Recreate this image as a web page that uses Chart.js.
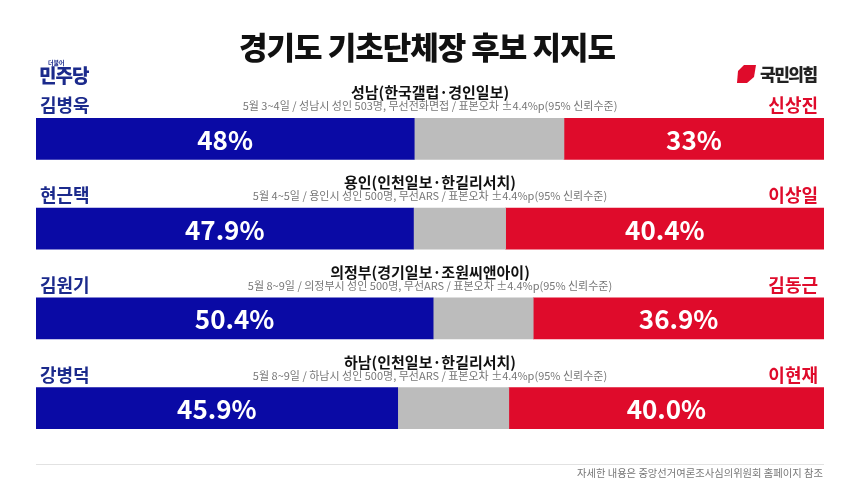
<!DOCTYPE html>
<html><head><meta charset="utf-8">
<script src="https://cdn.jsdelivr.net/npm/chart.js@4"></script>
<style>
html,body{margin:0;padding:0;background:#fff;}
#wrap{position:relative;width:860px;height:484px;}
</style></head>
<body><div id="wrap"><canvas id="c" width="860" height="484"></canvas></div>
<script>
const regions = ['성남(한국갤럽·경인일보)','용인(인천일보·한길리서치)','의정부(경기일보·조원씨앤아이)','하남(인천일보·한길리서치)'];
const details = [
 '5월 3~4일 / 성남시 성인 503명, 무선전화면접 / 표본오차 ±4.4%p(95% 신뢰수준)',
 '5월 4~5일 / 용인시 성인 500명, 무선ARS / 표본오차 ±4.4%p(95% 신뢰수준)',
 '5월 8~9일 / 의정부시 성인 500명, 무선ARS / 표본오차 ±4.4%p(95% 신뢰수준)',
 '5월 8~9일 / 하남시 성인 500명, 무선ARS / 표본오차 ±4.4%p(95% 신뢰수준)'];
const demCandidates = ['김병욱','현근택','김원기','강병덕'];
const pppCandidates = ['신상진','이상일','김동근','이현재'];
const demValues = [48, 47.9, 50.4, 45.9];
const otherValues = [19, 11.7, 12.7, 14.1];
const pppValues = [33, 40.4, 36.9, 40.0];
const demLabels = ['48%','47.9%','50.4%','45.9%'];
const pppLabels = ['33%','40.4%','36.9%','40.0%'];

const FONT = '"Noto Sans CJK KR", "Noto Sans", sans-serif';
const BLUE = '#0a0aa5', NAVY = '#1b2a8c', RED = '#df0b2b', GRAY = '#bcbcbc';

function ls(ctx, v){ if ('letterSpacing' in ctx) ctx.letterSpacing = v; }

const textPlugin = {
  id:'texts',
  afterDraw(chart){
    const ctx = chart.ctx;
    const mBlue = chart.getDatasetMeta(0), mRed = chart.getDatasetMeta(2);
    const xs = chart.scales.x;
    const cx = (xs.left + xs.right)/2;
    ctx.save();
    // title
    ctx.fillStyle = '#111';
    ctx.textAlign = 'center'; ctx.textBaseline = 'middle';
    ctx.font = '900 31px ' + FONT;
    ls(ctx,'-1px');
    ctx.fillText('경기도 기초단체장 후보 지지도', cx - 3, 47);
    ls(ctx,'0px');
    // Democratic logo
    ctx.fillStyle = NAVY;
    ctx.textAlign = 'left'; ctx.textBaseline = 'alphabetic';
    ctx.font = '900 19px ' + FONT;
    ls(ctx,'-1px');
    ctx.fillText('민주당', 39, 83);
    ls(ctx,'0px');
    ctx.font = 'bold 6px ' + FONT;
    ctx.fillText('더불어', 48, 65);
    // PPP logo
    ctx.fillStyle = RED;
    ctx.beginPath();
    ctx.moveTo(744,65); ctx.lineTo(756,65); ctx.lineTo(754,77); ctx.lineTo(747,83);
    ctx.lineTo(737,83); ctx.lineTo(738,71); ctx.closePath(); ctx.fill();
    ctx.fillStyle = '#222';
    ctx.font = '900 17px ' + FONT;
    ls(ctx,'-1.5px');
    ctx.fillText('국민의힘', 760, 81);
    ls(ctx,'0px');

    for (let i=0;i<regions.length;i++){
      const b = mBlue.data[i], r = mRed.data[i];
      const top = b.y - b.height/2;
      // names
      ctx.font = 'bold 18px ' + FONT;
      ctx.textBaseline = 'alphabetic';
      ctx.fillStyle = NAVY; ctx.textAlign = 'left';
      ctx.fillText(demCandidates[i], 40, top - 6);
      ctx.fillStyle = RED; ctx.textAlign = 'right';
      ctx.fillText(pppCandidates[i], 818, top - 6);
      // region title
      ctx.fillStyle = '#111'; ctx.textAlign = 'center';
      ctx.font = 'bold 15px ' + FONT;
      ctx.fillText(regions[i], cx, top - 20);
      ctx.fillStyle = '#777';
      ctx.font = '11px ' + FONT;
      ctx.fillText(details[i], cx, top - 8);
      // values
      ctx.fillStyle = '#fff';
      ctx.font = 'bold 26px ' + FONT;
      ctx.textBaseline = 'middle';
      ctx.fillText(demLabels[i], (b.base + b.x)/2, b.y + 1);
      ctx.fillText(pppLabels[i], (r.base + r.x)/2, r.y + 1);
    }
    // footer
    ctx.strokeStyle = '#e2e2e2'; ctx.lineWidth = 1;
    ctx.beginPath(); ctx.moveTo(36, 464.5); ctx.lineTo(824, 464.5); ctx.stroke();
    ctx.fillStyle = '#777'; ctx.textAlign = 'right'; ctx.textBaseline = 'alphabetic';
    ctx.font = '10.3px ' + FONT;
    ctx.fillText('자세한 내용은 중앙선거여론조사심의위원회 홈페이지 참조', 823, 477);
    ctx.restore();
  }
};

new Chart(document.getElementById('c'), {
  type:'bar',
  data:{
    labels: regions,
    datasets:[
      {label:'더불어민주당', data: demValues, backgroundColor: BLUE},
      {label:'기타', data: otherValues, backgroundColor: GRAY},
      {label:'국민의힘', data: pppValues, backgroundColor: RED}
    ]
  },
  options:{
    indexAxis:'y',
    responsive:false,
    animation:false,
    devicePixelRatio:1,
    layout:{padding:{left:36,right:36,top:94,bottom:31}},
    datasets:{bar:{barThickness:41, borderWidth:0}},
    scales:{
      x:{stacked:true, min:0, max:100, display:false},
      y:{stacked:true, display:false}
    },
    plugins:{legend:{display:false}, tooltip:{enabled:false}}
  },
  plugins:[textPlugin]
});
</script></body></html>
